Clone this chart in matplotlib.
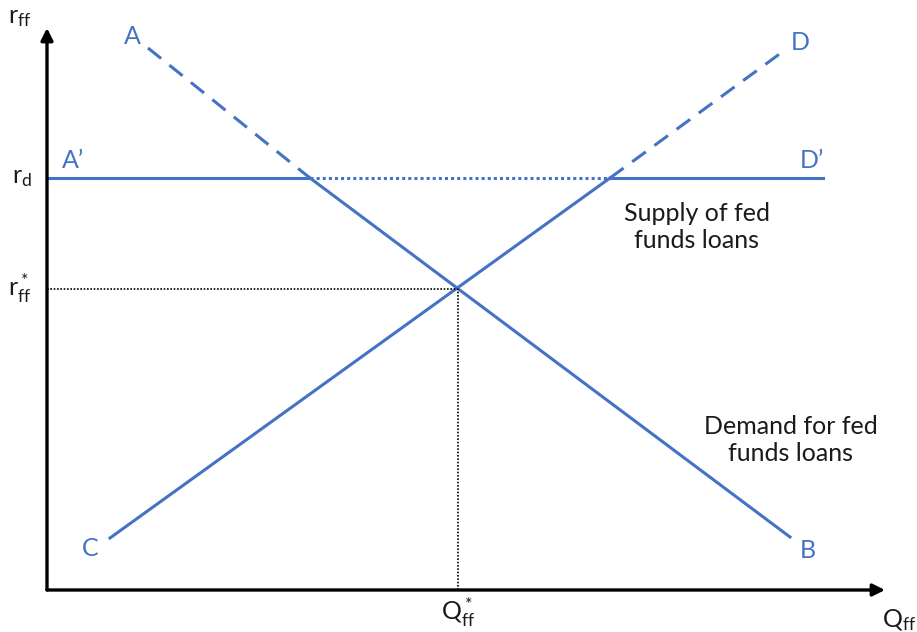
import matplotlib
matplotlib.use("Agg")
from matplotlib import pyplot as plt

plt.rcParams['font.family'] = ['Lato', 'DejaVu Sans']
plt.rcParams['mathtext.fontset'] = 'custom'
plt.rcParams['mathtext.rm'] = 'Lato'
plt.rcParams['mathtext.it'] = 'Lato'

# curve points (x = quantity, y = rate), origin at the axes corner
demand_x = [101, 263, 743]
demand_y = [542, 412, 53]
supply_x = [63, 563, 738]
supply_y = [52, 412, 540]
r_d = 412
q_eq, r_eq = 411, 301
x_end, y_end = 776, 562
h_end = 776

blue = "#4472C4"
dark = "#1a1a1a"

fig = plt.figure(figsize=(9.17, 6.32), dpi=100)
ax = fig.add_axes([0, 0, 1, 1])
ax.set_xlim(-47, 870)
ax.set_ylim(-42, 590)
ax.axis("off")

# axes with arrows
ax.annotate("", xy=(0, y_end), xytext=(0, 0),
            arrowprops=dict(arrowstyle="-|>", color="black", lw=2.4, mutation_scale=18, shrinkA=0, shrinkB=0))
ax.annotate("", xy=(x_end + 62, 0), xytext=(0, 0),
            arrowprops=dict(arrowstyle="-|>", color="black", lw=2.4, mutation_scale=18, shrinkA=0, shrinkB=0))

dash = (0, (5.5, 3.5))

# demand: dashed upper part, solid lower part
ax.plot(demand_x[:2], demand_y[:2], color=blue, lw=2.2, ls=dash)
ax.plot(demand_x[1:], demand_y[1:], color=blue, lw=2.2)

# supply: solid lower part, dashed upper part
ax.plot(supply_x[:2], supply_y[:2], color=blue, lw=2.2)
ax.plot(supply_x[1:], supply_y[1:], color=blue, lw=2.2, ls=dash)

# discount rate line
ax.plot([0, demand_x[1]], [r_d, r_d], color=blue, lw=2.2)
ax.plot([demand_x[1], supply_x[1]], [r_d, r_d], color=blue, lw=2.2, ls=(0, (1, 1)))
ax.plot([supply_x[1], h_end], [r_d, r_d], color=blue, lw=2.2)

# equilibrium guides
ax.plot([0, q_eq], [r_eq, r_eq], color="black", lw=1.2, ls=(0, (1, 1)))
ax.plot([q_eq, q_eq], [0, r_eq], color="black", lw=1.2, ls=(0, (1, 1)))

fs = 18
ax.text(85, 553, "A", color=blue, fontsize=fs, ha="center", va="center")
ax.text(753, 548, "D", color=blue, fontsize=fs, ha="center", va="center")
ax.text(26, 430, "A\u2019", color=blue, fontsize=fs, ha="center", va="center")
ax.text(765, 430, "D\u2019", color=blue, fontsize=fs, ha="center", va="center")
ax.text(43, 42, "C", color=blue, fontsize=fs, ha="center", va="center")
ax.text(761, 40, "B", color=blue, fontsize=fs, ha="center", va="center")

ax.text(650, 363, "Supply of fed\nfunds loans", color=dark, fontsize=fs,
        ha="center", va="center", linespacing=1.25)
ax.text(744, 150, "Demand for fed\nfunds loans", color=dark, fontsize=fs,
        ha="center", va="center", linespacing=1.25)

ax.text(-25, 413, r"$\mathrm{r_d}$", color=dark, fontsize=fs, ha="center", va="center")
ax.text(-27, 302, r"$\mathrm{r^*_{ff}}$", color=dark, fontsize=fs, ha="center", va="center")
ax.text(-27, 573, r"$\mathrm{r_{ff}}$", color=dark, fontsize=fs, ha="center", va="center")
ax.text(q_eq, -22, r"$\mathrm{Q^*_{ff}}$", color=dark, fontsize=fs, ha="center", va="center")
ax.text(852, -30, r"$\mathrm{Q_{ff}}$", color=dark, fontsize=fs, ha="center", va="center")

fig.savefig("out.png", dpi=100)
